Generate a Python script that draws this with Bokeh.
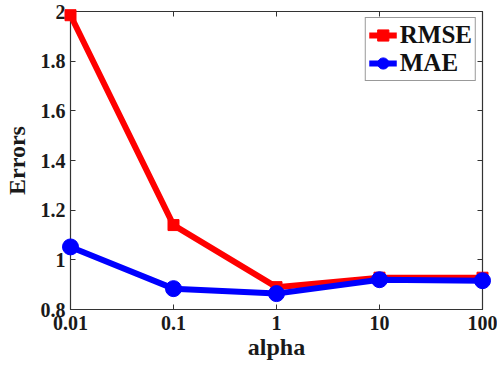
from bokeh.plotting import figure
from bokeh.models import LinearAxis, FixedTicker, Legend, LegendItem, Range1d, LogAxis
from bokeh.embed import file_html
from bokeh.resources import INLINE

alpha = [0.01, 0.1, 1, 10, 100]
rmse = [1.985, 1.14, 0.89, 0.928, 0.928]
mae = [1.052, 0.884, 0.864, 0.92, 0.916]
x_ticks = [0.01, 0.1, 1, 10, 100]
x_tick_labels = ["0.01", "0.1", "1", "10", "100"]
y_ticks = [0.8, 1.0, 1.2, 1.4, 1.6, 1.8, 2.0]
y_tick_labels = ["0.8", "1", "1.2", "1.4", "1.6", "1.8", "2"]

FONT = "Liberation Serif"

p = figure(width=497, height=369, output_backend="svg", toolbar_location=None,
           x_axis_type="log", x_range=Range1d(0.01, 100), y_range=Range1d(0.8, 2.0),
           min_border_left=69, min_border_right=15, min_border_top=11, min_border_bottom=60)
p.xgrid.visible = False
p.ygrid.visible = False
p.outline_line_color = "#333333"
p.outline_line_width = 1.2

r1 = p.line(alpha, rmse, line_color="#ff0000", line_width=6, level="overlay")
s1 = p.scatter(alpha, rmse, marker="square", size=11, fill_color="#ff0000", line_color="#ff0000", level="overlay")
r2 = p.line(alpha, mae, line_color="#0000ff", line_width=6, level="overlay")
s2 = p.scatter(alpha, mae, marker="circle", size=16, fill_color="#0000ff", line_color="#0000ff", level="overlay")

def style_axis(ax):
    ax.axis_line_color = "#333333"
    ax.major_tick_line_color = "#333333"
    ax.major_tick_in = 5
    ax.major_tick_out = 0
    ax.minor_tick_line_color = None
    ax.major_label_text_font = FONT
    ax.major_label_text_font_style = "bold"
    ax.major_label_text_font_size = "20px"
    ax.major_label_text_color = "#1a1a1a"
    ax.axis_label_text_font = FONT
    ax.axis_label_text_font_style = "bold"
    ax.axis_label_text_font_size = "24px"
    ax.axis_label_text_color = "#1a1a1a"

xa = p.xaxis[0]
xa.ticker = FixedTicker(ticks=x_ticks)
xa.major_label_overrides = {t: l for t, l in zip(x_ticks, x_tick_labels)}
xa.axis_label = "alpha"
style_axis(xa)
xa.major_label_standoff = 6
xa.axis_label_standoff = 1

ya = p.yaxis[0]
ya.ticker = FixedTicker(ticks=y_ticks)
ya.major_label_overrides = {t: l for t, l in zip(y_ticks, y_tick_labels)}
ya.axis_label = "Errors"
style_axis(ya)
ya.major_label_standoff = 5
ya.axis_label_standoff = 8

top = LogAxis(ticker=FixedTicker(ticks=x_ticks))
right = LinearAxis(ticker=FixedTicker(ticks=y_ticks))
for ax in (top, right):
    style_axis(ax)
    ax.major_label_text_color = None
    ax.major_label_text_font_size = "1px"
    ax.major_label_standoff = 0
p.add_layout(top, "above")
p.add_layout(right, "right")

legend = Legend(items=[LegendItem(label="RMSE", renderers=[r1, s1]),
                       LegendItem(label="MAE", renderers=[r2, s2])],
                location="top_right")
legend.label_text_font = FONT
legend.label_text_font_style = "bold"
legend.label_text_font_size = "25px"
legend.label_text_color = "#111111"
legend.border_line_color = "#333333"
legend.border_line_width = 1.2
legend.glyph_width = 28
legend.glyph_height = 28
legend.label_standoff = 3
legend.spacing = 0
legend.padding = 3
legend.margin = 6
legend.label_height = 28
p.add_layout(legend)

open("out.html", "w").write(file_html(p, INLINE))
